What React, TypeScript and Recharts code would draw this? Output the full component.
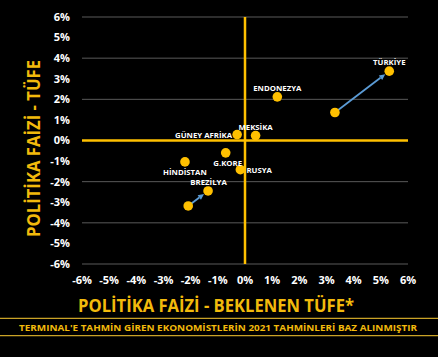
import {
  ScatterChart,
  Scatter,
  XAxis,
  YAxis,
  CartesianGrid,
  ReferenceLine,
  LabelList,
} from 'recharts';

// current positions (x: policy rate - expected CPI, y: policy rate - CPI)
const countries = ['TÜRKİYE', 'ENDONEZYA', 'MEKSİKA', 'GÜNEY AFRİKA', 'G.KORE', 'RUSYA', 'HİNDİSTAN', 'BREZİLYA'];
const expectedGap = [5.31, 1.19, 0.39, -0.29, -0.71, -0.17, -2.21, -1.36];
const currentGap = [3.37, 2.12, 0.24, 0.29, -0.6, -1.42, -1.04, -2.45];

// starting positions of the two arrows
const movedCountries = ['TÜRKİYE', 'BREZİLYA'];
const movedFromX = [3.31, -2.09];
const movedFromY = [1.36, -3.18];

const axisTicks = [-6, -5, -4, -3, -2, -1, 0, 1, 2, 3, 4, 5, 6];

const YELLOW = '#FFC000';
const GOLD = '#F2BA0C';
const FONT = '"Open Sans", sans-serif';

const points = countries.map((name, i) => ({ name, x: expectedGap[i], y: currentGap[i] }));
const startPoints = movedCountries.map((name, i) => ({ name, x: movedFromX[i], y: movedFromY[i] }));

// where each label sits relative to its dot
const labelPlacement: Record<string, { dx: number; dy: number; anchor: 'start' | 'middle' | 'end' }> = {
  'TÜRKİYE': { dx: 0, dy: -9, anchor: 'middle' },
  'ENDONEZYA': { dx: 0, dy: -9, anchor: 'middle' },
  'MEKSİKA': { dx: 0, dy: -8.5, anchor: 'middle' },
  'GÜNEY AFRİKA': { dx: -5, dy: 0, anchor: 'end' },
  'G.KORE': { dx: 2, dy: 10, anchor: 'middle' },
  'RUSYA': { dx: 6, dy: 0.5, anchor: 'start' },
  'HİNDİSTAN': { dx: 0, dy: 10.5, anchor: 'middle' },
  'BREZİLYA': { dx: 0.5, dy: -8.5, anchor: 'middle' },
};

const Dot = (props: any) => {
  const { cx, cy } = props;
  if (cx == null || cy == null) return null;
  return <circle cx={cx} cy={cy} r={4.8} fill={YELLOW} />;
};

const CountryLabel = (props: any) => {
  const { x, y, width, height, value } = props;
  const p = labelPlacement[value] || { dx: 0, dy: -9, anchor: 'middle' };
  const cx = x + (width || 0) / 2;
  const cy = y + (height || 0) / 2;
  return (
    <text
      x={cx + p.dx}
      y={cy + p.dy}
      textAnchor={p.anchor}
      dominantBaseline="central"
      fill="#fff"
      fontSize={7.8}
      fontWeight={700}
      fontFamily={FONT}
    >
      {value}
    </text>
  );
};

// blue arrow, stopping at the edge of the target dot
const Arrow = (props: any) => {
  const { x1, y1, x2, y2 } = props;
  if ([x1, y1, x2, y2].some((v) => v == null || isNaN(v))) return null;
  const len = Math.hypot(x2 - x1, y2 - y1);
  const ux = (x2 - x1) / len;
  const uy = (y2 - y1) / len;
  const tipX = x2 - ux * 5;
  const tipY = y2 - uy * 5;
  const head = 6;
  const half = 2.8;
  const bx = tipX - ux * head;
  const by = tipY - uy * head;
  return (
    <g>
      <line x1={x1} y1={y1} x2={bx} y2={by} stroke="#5B9BD5" strokeWidth={1.8} />
      <polygon
        points={`${tipX},${tipY} ${bx - uy * half},${by + ux * half} ${bx + uy * half},${by - ux * half}`}
        fill="#5B9BD5"
      />
    </g>
  );
};

const tickStyle = { fill: '#fff', fontSize: 11, fontWeight: 700, fontFamily: FONT };

export default function App() {
  return (
    <div style={{ position: 'relative', width: 438, height: 357, background: '#000' }}>
      <style>{`body{margin:0;background:#000}`}</style>
      <ScatterChart width={438} height={357} margin={{ top: 17, right: 30, left: 0, bottom: 63 }}>
        <CartesianGrid vertical={false} stroke="#5a5a5a" strokeWidth={1} />
        <XAxis
          type="number"
          dataKey="x"
          domain={[-6, 6]}
          ticks={axisTicks}
          tickFormatter={(v) => `${v}%`}
          tick={tickStyle}
          axisLine={false}
          tickLine={false}
          tickMargin={6}
          height={30}
        />
        <YAxis
          type="number"
          dataKey="y"
          domain={[-6, 6]}
          ticks={axisTicks}
          tickFormatter={(v) => `${v}%`}
          tick={tickStyle}
          axisLine={false}
          tickLine={false}
          tickMargin={6}
          width={82}
        />
        <ReferenceLine y={0} stroke={YELLOW} strokeWidth={2.5} />
        <ReferenceLine x={0} stroke={YELLOW} strokeWidth={2.5} />
        <Scatter data={startPoints} shape={<Dot />} isAnimationActive={false} />
        <Scatter data={points} shape={<Dot />} isAnimationActive={false}>
          <LabelList dataKey="name" content={<CountryLabel />} />
        </Scatter>
        {startPoints.map((s) => {
          const target = points.find((p) => p.name === s.name)!;
          return (
            <ReferenceLine
              key={s.name}
              segment={[{ x: s.x, y: s.y }, { x: target.x, y: target.y }]}
              shape={<Arrow />}
            />
          );
        })}
      </ScatterChart>
      <svg
        width={438}
        height={357}
        style={{ position: 'absolute', left: 0, top: 0, pointerEvents: 'none' }}
      >
        <text
          x={33}
          y={148.5}
          transform="rotate(-90 33 148.5)"
          textAnchor="middle"
          dominantBaseline="central"
          fill={GOLD}
          fontSize={18}
          fontWeight={700}
          fontFamily={FONT}
          textLength={177}
          lengthAdjust="spacingAndGlyphs"
        >
          POLİTİKA FAİZİ - TÜFE
        </text>
        <text
          x={216}
          y={305}
          textAnchor="middle"
          dominantBaseline="central"
          fill={GOLD}
          fontSize={17}
          fontWeight={700}
          fontFamily={FONT}
          textLength={276}
          lengthAdjust="spacingAndGlyphs"
        >
          POLİTİKA FAİZİ - BEKLENEN TÜFE*
        </text>
        <line x1={0} y1={318.3} x2={438} y2={318.3} stroke="#C9A227" strokeWidth={1.3} />
        <line x1={0} y1={335.7} x2={438} y2={335.7} stroke="#C9A227" strokeWidth={1.3} />
        <text
          x={218}
          y={327.3}
          textAnchor="middle"
          dominantBaseline="central"
          fill={GOLD}
          fontSize={9.4}
          fontWeight={700}
          fontFamily={FONT}
          textLength={398}
          lengthAdjust="spacingAndGlyphs"
        >
          TERMINAL'E TAHMİN GİREN EKONOMİSTLERİN 2021 TAHMİNLERİ BAZ ALINMIŞTIR
        </text>
      </svg>
    </div>
  );
}
